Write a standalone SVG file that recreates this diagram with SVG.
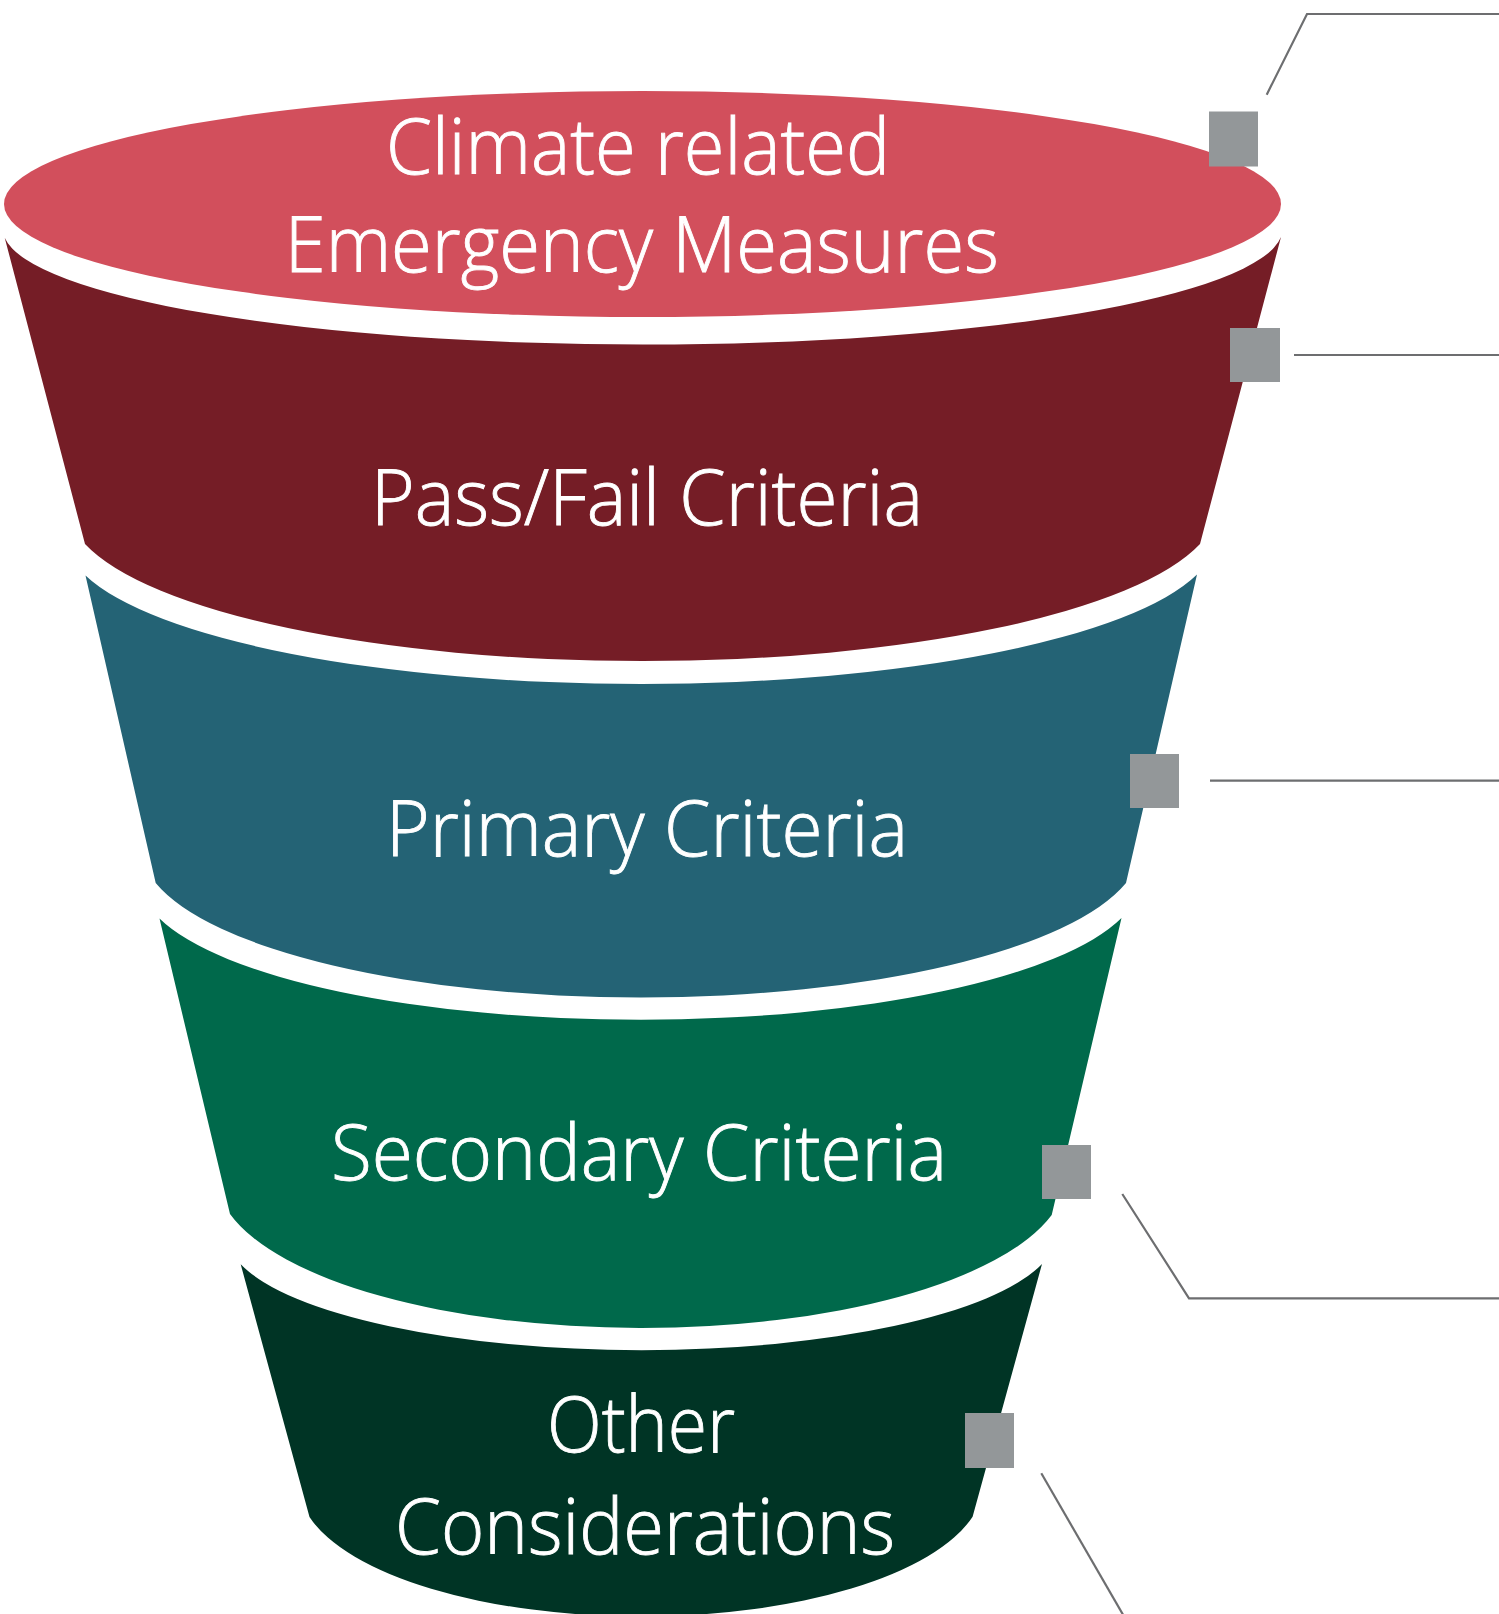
<svg xmlns="http://www.w3.org/2000/svg" width="1499" height="1614" viewBox="0 0 1499 1614">
  <style>
    .lbl { font-family: "Open Sans", "Noto Sans", "Liberation Sans", sans-serif; font-weight: 300; font-size: 77px; fill: #ffffff; stroke: #ffffff; stroke-width: 0.9; text-anchor: middle; }
    .sq { fill: #939799; }
    .ln { fill: none; stroke: #6d6e70; stroke-width: 2.2; }
  </style>
  <rect width="1499" height="1614" fill="#ffffff"/>

  <g id="band-climate">
    <ellipse cx="642.5" cy="204" rx="638.5" ry="113" fill="#D24F5C"/>
    <text class="lbl" x="638" y="174" textLength="504" lengthAdjust="spacingAndGlyphs">Climate related</text>
    <text class="lbl" x="641.7" y="272" textLength="714" lengthAdjust="spacingAndGlyphs">Emergency Measures</text>
    <rect class="sq" x="1209" y="111.5" width="49" height="55"/>
  </g>

  <g id="band-passfail">
    <path d="M 4.7 237.7 L 85 544 A 575 155 0 0 0 1200 544 L 1281 237 A 640 116 0 0 1 4.7 237.7 Z" fill="#751D26"/>
    <text class="lbl" x="647" y="525" textLength="552" lengthAdjust="spacingAndGlyphs">Pass/Fail Criteria</text>
    <rect class="sq" x="1230" y="328" width="50" height="54"/>
  </g>

  <g id="band-primary">
    <path d="M 85.5 575.5 L 155.7 883 A 500 151 0 0 0 1126 883 L 1197 574.5 A 575 146.6 0 0 1 85.5 575.5 Z" fill="#246375"/>
    <text class="lbl" x="647" y="855.5" textLength="522" lengthAdjust="spacingAndGlyphs">Primary Criteria</text>
    <rect class="sq" x="1130" y="754" width="49" height="54"/>
  </g>

  <g id="band-secondary">
    <path d="M 159.5 918.5 L 230 1214 A 425 152.5 0 0 0 1051.7 1215 L 1121.5 918 A 500 139.6 0 0 1 159.5 918.5 Z" fill="#00694B"/>
    <text class="lbl" x="639" y="1180" textLength="616" lengthAdjust="spacingAndGlyphs">Secondary Criteria</text>
    <rect class="sq" x="1042" y="1145" width="49" height="54"/>
  </g>

  <g id="band-other">
    <path d="M 240.7 1264.3 L 309.5 1517 A 342 132 0 0 0 972.6 1516.7 L 1042 1264 A 415 116.3 0 0 1 240.7 1264.3 Z" fill="#003425"/>
    <text class="lbl" x="641" y="1451.7" textLength="188" lengthAdjust="spacingAndGlyphs">Other</text>
    <text class="lbl" x="645" y="1554" textLength="500" lengthAdjust="spacingAndGlyphs">Considerations</text>
    <rect class="sq" x="965" y="1413" width="49" height="55"/>
  </g>

  <g id="connectors">
    <polyline class="ln" points="1266.7,94.7 1307,14 1499,14"/>
    <line class="ln" x1="1294" y1="355" x2="1499" y2="355"/>
    <line class="ln" x1="1210" y1="780.7" x2="1499" y2="780.7"/>
    <polyline class="ln" points="1122.3,1194 1189,1298.3 1499,1298.3"/>
    <line class="ln" x1="1041.3" y1="1473.3" x2="1123.5" y2="1615.5"/>
  </g>
</svg>
